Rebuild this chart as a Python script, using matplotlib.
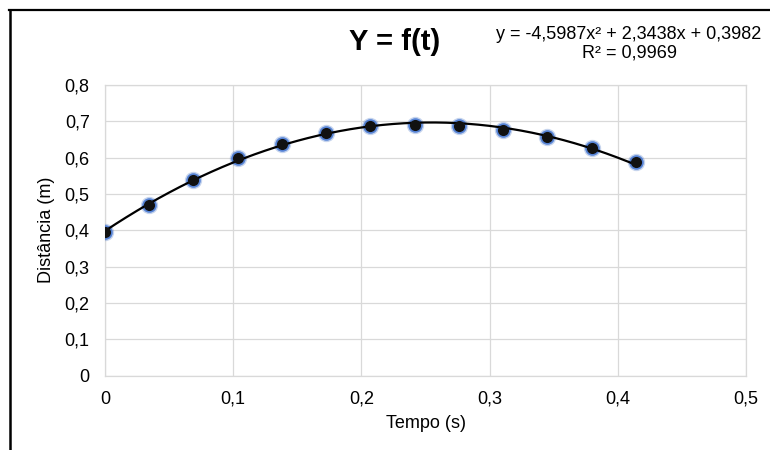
import numpy as np
import matplotlib
matplotlib.use('Agg')
import matplotlib.pyplot as plt
from matplotlib.lines import Line2D
from matplotlib.ticker import FuncFormatter

plt.rcParams['font.family'] = ['Liberation Sans', 'DejaVu Sans']

# data
tempo = [0, 0.0345, 0.069, 0.1035, 0.138, 0.1725, 0.207, 0.2415, 0.276, 0.3105, 0.345, 0.3795, 0.414]
distancia = [0.394, 0.470, 0.539, 0.598, 0.638, 0.669, 0.686, 0.690, 0.688, 0.677, 0.658, 0.626, 0.589]
coef = [-4.5987, 2.3438, 0.3982]
titulo = 'Y = f(t)'
equacao = 'y = -4,5987x\u00b2 + 2,3438x + 0,3982'
r2 = 'R\u00b2 = 0,9969'


def virgula(v, pos):
    s = '{:.1f}'.format(v).replace('.', ',')
    if s == '0,0':
        s = '0'
    return s


def main():
    fig = plt.figure(figsize=(7.7, 4.5), dpi=100)
    ax = fig.add_axes([105 / 770, 1 - 375.6 / 450, (746 - 105) / 770, (375.6 - 85) / 450])

    grid = '#d9d9d9'
    ax.set_xlim(0, 0.5)
    ax.set_ylim(0, 0.8)
    ax.set_xticks(np.arange(0, 0.51, 0.1))
    ax.set_yticks(np.arange(0, 0.81, 0.1))
    ax.xaxis.set_major_formatter(FuncFormatter(virgula))
    ax.yaxis.set_major_formatter(FuncFormatter(virgula))
    ax.grid(True, color=grid, lw=0.9)
    ax.set_axisbelow(True)
    for sp in ax.spines.values():
        sp.set_color(grid)
        sp.set_linewidth(0.9)
    ax.tick_params(length=0, labelsize=13, pad=11, colors='#000000')

    # glow around markers
    ax.plot(tempo, distancia, 'o', ms=12.5, color='#4472c4', alpha=0.3, mec='none', zorder=3)
    ax.plot(tempo, distancia, 'o', ms=10.5, color='#3a6fd0', alpha=0.8, mec='none', zorder=3)

    xs = np.linspace(tempo[0], tempo[-1], 200)
    ax.plot(xs, np.polyval(coef, xs), color='black', lw=1.6, zorder=4)
    ax.plot(tempo, distancia, 'o', ms=8, color='#111111', mec='none', zorder=5)

    ax.set_xlabel('Tempo (s)', fontsize=13)
    ax.xaxis.set_label_coords(0.5, -(424 - 375.6) / (375.6 - 85), transform=ax.transAxes)
    ax.xaxis.label.set_va('center')
    ax.set_ylabel('Distância (m)', fontsize=13)
    ax.yaxis.set_label_coords(-(105 - 47) / (746 - 105), 0.5)
    ax.yaxis.label.set_va('center')

    fig.text(395 / 770, 1 - 42 / 450, titulo, ha='center', va='center', fontsize=21, fontweight='bold')
    fig.text(629 / 770, 1 - 34.5 / 450, equacao, ha='center', va='center', fontsize=13)
    fig.text(629 / 770, 1 - 53 / 450, r2, ha='center', va='center', fontsize=13)

    # outer frame (top and left only visible)
    fig.add_artist(Line2D([9 / 770, 1], [1 - 9.5 / 450, 1 - 9.5 / 450], color='black', lw=1.6, transform=fig.transFigure))
    fig.add_artist(Line2D([9.5 / 770, 9.5 / 770], [0, 1 - 9.5 / 450], color='black', lw=1.8, transform=fig.transFigure))

    fig.savefig('out.png', dpi=100)


if __name__ == '__main__':
    main()
